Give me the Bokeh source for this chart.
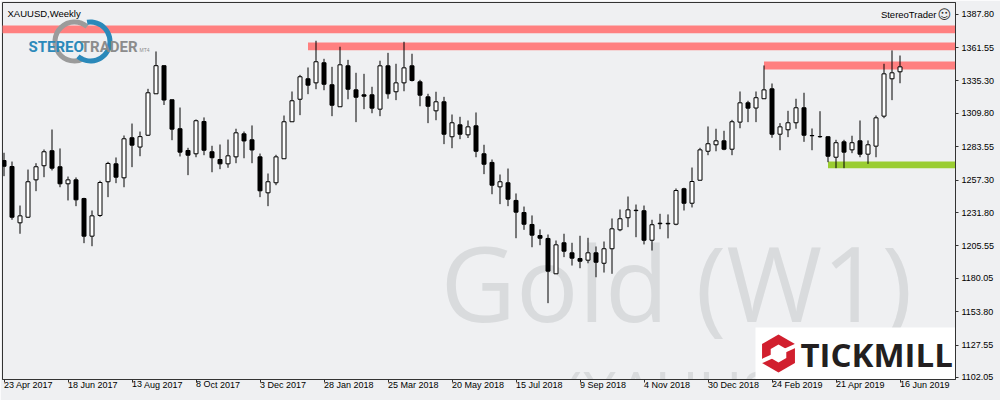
import numpy as np
from bokeh.plotting import figure
from bokeh.models import ColumnDataSource, FixedTicker, Range1d, NumeralTickFormatter
from bokeh.core.properties import value
from bokeh.embed import file_html
from bokeh.resources import INLINE

# ---------------- data (weekly XAUUSD candles, 23 Apr 2017 .. 16 Jun 2019) -------------
opens = [1272.7, 1268.0, 1223.7, 1228.1, 1257.5, 1268.6, 1280.4, 1267.8, 1254.4, 1257.5,
         1242.8, 1213.2, 1229.5, 1256.0, 1270.1, 1259.1, 1290.6, 1283.3, 1292.6, 1325.2,
         1347.3, 1320.5, 1297.7, 1280.6, 1278.0, 1303.4, 1279.6, 1273.5, 1270.1, 1275.6,
         1293.7, 1289.0, 1275.6, 1247.3, 1255.2, 1274.1, 1303.2, 1320.9, 1337.0, 1333.8,
         1349.6, 1332.3, 1315.0, 1347.2, 1328.3, 1324.4, 1324.4, 1313.1, 1347.2, 1326.8,
         1333.8, 1347.2, 1334.6, 1322.8, 1311.8, 1318.9, 1291.4, 1300.8, 1292.9, 1300.0,
         1278.0, 1271.2, 1252.0, 1255.2, 1241.3, 1231.8, 1222.4, 1213.7, 1211.4, 1183.6,
         1208.0, 1200.1, 1195.6, 1194.3, 1200.1, 1191.9, 1203.3, 1218.2, 1227.7, 1233.6,
         1233.2, 1210.0, 1223.4, 1223.3, 1222.6, 1250.5, 1239.1, 1257.2, 1280.0, 1285.1,
         1288.2, 1281.6, 1302.9, 1318.1, 1314.0, 1321.3, 1329.1, 1293.4, 1296.9, 1302.4,
         1314.2, 1292.4, 1291.6, 1291.4, 1275.3, 1287.4, 1281.1, 1288.2, 1277.7, 1284.0,
         1307.6, 1337.0, 1342.5]
highs = [1278.8, 1271.9, 1237.3, 1265.6, 1270.6, 1281.4, 1297.1, 1282.2, 1260.1, 1259.4,
         1243.4, 1233.4, 1256.8, 1271.7, 1275.1, 1292.4, 1301.8, 1295.5, 1329.1, 1358.5,
         1347.5, 1320.5, 1314.4, 1282.7, 1305.0, 1306.6, 1284.3, 1285.3, 1289.2, 1297.7,
         1295.5, 1300.3, 1278.2, 1262.5, 1277.2, 1308.1, 1327.0, 1340.1, 1345.9, 1366.9,
         1352.7, 1346.4, 1362.2, 1351.9, 1341.7, 1340.9, 1330.7, 1351.2, 1357.4, 1348.8,
         1366.1, 1356.7, 1336.2, 1325.2, 1326.8, 1322.8, 1308.9, 1307.1, 1304.2, 1310.5,
         1285.1, 1273.5, 1261.7, 1266.4, 1246.8, 1236.5, 1229.5, 1218.5, 1214.5, 1209.8,
         1215.1, 1208.0, 1213.5, 1211.9, 1205.1, 1209.0, 1227.1, 1234.2, 1244.4, 1238.1,
         1237.3, 1226.1, 1230.8, 1230.3, 1250.7, 1251.3, 1267.2, 1282.7, 1299.5, 1297.7,
         1296.1, 1304.7, 1327.0, 1319.7, 1327.0, 1347.5, 1333.3, 1302.1, 1311.8, 1321.3,
         1326.0, 1297.9, 1311.5, 1291.8, 1289.0, 1289.0, 1292.2, 1304.2, 1288.5, 1308.1,
         1348.8, 1359.3, 1355.3]
lows = [1260.4, 1226.1, 1215.1, 1227.7, 1248.6, 1259.6, 1264.9, 1251.7, 1241.3, 1236.8,
        1207.7, 1205.3, 1228.4, 1243.9, 1254.9, 1251.7, 1267.5, 1276.1, 1292.0, 1325.2,
        1316.4, 1288.7, 1275.9, 1261.2, 1275.3, 1276.9, 1263.5, 1265.9, 1267.0, 1270.6,
        1274.5, 1270.6, 1243.9, 1236.8, 1253.3, 1274.1, 1303.2, 1308.4, 1324.9, 1328.8,
        1328.0, 1307.6, 1315.0, 1320.9, 1302.9, 1313.1, 1309.9, 1307.6, 1321.3, 1320.2,
        1327.2, 1334.9, 1315.4, 1302.1, 1304.4, 1285.6, 1282.4, 1289.5, 1290.4, 1275.3,
        1262.0, 1246.2, 1238.4, 1236.8, 1211.6, 1218.2, 1204.5, 1206.1, 1160.5, 1183.6,
        1196.7, 1190.1, 1188.0, 1191.9, 1180.9, 1184.6, 1183.6, 1217.1, 1220.3, 1212.4,
        1206.7, 1201.9, 1218.7, 1211.5, 1221.8, 1233.4, 1235.8, 1257.2, 1276.9, 1280.0,
        1280.8, 1276.9, 1298.1, 1302.9, 1302.9, 1321.3, 1290.6, 1280.8, 1291.1, 1297.7,
        1287.4, 1280.8, 1290.6, 1271.4, 1266.7, 1266.7, 1278.5, 1275.3, 1270.1, 1275.3,
        1306.0, 1320.2, 1333.5]
closes = [1268.2, 1228.1, 1229.2, 1256.0, 1267.8, 1279.6, 1266.7, 1254.4, 1257.5, 1241.8,
          1213.2, 1229.2, 1255.4, 1270.4, 1259.6, 1289.8, 1284.8, 1291.5, 1326.0, 1347.3,
          1320.3, 1297.4, 1279.3, 1276.9, 1304.0, 1280.8, 1274.9, 1270.1, 1276.4, 1294.5,
          1288.1, 1281.0, 1248.9, 1256.0, 1275.6, 1303.2, 1319.7, 1338.6, 1332.0, 1350.4,
          1332.7, 1316.2, 1348.0, 1328.8, 1322.5, 1323.3, 1313.9, 1347.2, 1325.2, 1333.8,
          1345.6, 1335.7, 1324.1, 1315.4, 1318.9, 1293.4, 1302.4, 1293.4, 1299.2, 1280.0,
          1269.8, 1253.3, 1256.0, 1242.3, 1232.1, 1222.6, 1214.0, 1211.6, 1185.7, 1206.4,
          1201.4, 1195.9, 1193.5, 1200.1, 1192.7, 1203.3, 1219.0, 1226.9, 1233.9, 1233.3,
          1210.0, 1222.2, 1223.0, 1222.9, 1249.1, 1239.1, 1256.2, 1281.1, 1285.9, 1288.2,
          1281.6, 1303.2, 1318.1, 1313.9, 1322.1, 1328.3, 1293.4, 1299.2, 1302.4, 1314.2,
          1292.6, 1292.2, 1291.4, 1276.1, 1286.7, 1279.3, 1286.7, 1277.7, 1285.1, 1306.3,
          1340.9, 1341.7, 1346.4]

date_labels = ["23 Apr 2017", "18 Jun 2017", "13 Aug 2017", "8 Oct 2017", "3 Dec 2017",
               "28 Jan 2018", "25 Mar 2018", "20 May 2018", "15 Jul 2018", "9 Sep 2018",
               "4 Nov 2018", "30 Dec 2018", "24 Feb 2019", "21 Apr 2019", "16 Jun 2019"]
price_ticks = [1387.80, 1361.55, 1335.30, 1309.80, 1283.55, 1257.30, 1231.80,
               1205.55, 1180.05, 1153.80, 1127.55, 1102.05]

# support / resistance zones (first bar index, lower price, upper price)
zone_start = [-5, 38, 95, 103]
zone_low = [1372.9, 1359.4, 1344.3, 1266.7]
zone_high = [1378.9, 1365.5, 1350.6, 1271.9]
zone_kind = ["res", "res", "res", "sup"]

# ---------------- geometry ----------------
BG = "#EFF0F2"
W, H = 1000, 400
FL, FR, FT, FB = 2, 955, 2, 379   # pixel box of the plotting frame
BAR_PX, BAR0_PX = 8.0, 3.5
PX_PRICE, PRICE0 = 0.7866, 1398.58


def dx(px):
    return (px - BAR0_PX) / BAR_PX


def dy(py):
    return PRICE0 - PX_PRICE * py


p = figure(width=W, height=H, x_range=Range1d(dx(FL), dx(FR)),
           y_range=Range1d(dy(FB), dy(FT)), y_axis_location="right",
           output_backend="svg", toolbar_location=None,
           min_border_left=FL, min_border_top=FT, min_border_right=W - FR,
           min_border_bottom=H - FB)
p.background_fill_color = BG
p.border_fill_color = BG
p.outline_line_color = "#333333"
p.xgrid.visible = False
p.ygrid.visible = False

# gap between font ascent and cap height (in em), used to put baselines where wanted
ASC_GAP = {"Open Sans": 0.355, "Liberation Sans": 0.19, "Roboto": 0.217, "DejaVu Sans": 0.2}


def put_text(px, py, s, font, size, color, align="left", style="normal"):
    p.text(x=[dx(px)], y=[dy(py - ASC_GAP[font] * size)], text=[s], text_font=value(font),
           text_font_size=f"{size}px", text_color=color, text_align=align,
           text_baseline="alphabetic", text_font_style=style)


# watermark
put_text(440, 318, "Gold (W1)", "Open Sans", 104, "#D9DBDD")
put_text(564, 413, "(XAUUSD)", "Open Sans", 60, "#D9DBDD")

# zones
zcol = {"res": "#FF8080", "sup": "#9ACD32"}
zsrc = ColumnDataSource(dict(left=zone_start, right=[dx(FR) + 5] * len(zone_start),
                             bottom=zone_low, top=zone_high,
                             color=[zcol[k] for k in zone_kind]))
p.quad(left="left", right="right", bottom="bottom", top="top", fill_color="color",
       line_color=None, source=zsrc)

# candles
idx = list(range(len(opens)))
bull = [c >= o for o, c in zip(opens, closes)]
src = ColumnDataSource(dict(
    x=idx, high=highs, low=lows,
    top=[max(o, c) for o, c in zip(opens, closes)],
    bottom=[min(o, c) for o, c in zip(opens, closes)],
    fill=["white" if b else "black" for b in bull]))
p.segment(x0="x", y0="low", x1="x", y1="high", line_color="black", line_width=1, source=src)
p.vbar(x="x", width=0.5, top="top", bottom="bottom", fill_color="fill",
       line_color="black", line_width=1, source=src)

# header texts
put_text(7, 15, "XAUUSD,Weekly", "Liberation Sans", 9.5, "black")
put_text(936, 16, "StereoTrader", "Liberation Sans", 9.5, "black", align="right")
put_text(937, 17, "\u263A", "DejaVu Sans", 13, "#333333")

# StereoTrader logo
p.annular_wedge(x=[dx(74)], y=[dy(41)], inner_radius=17, outer_radius=22,
                inner_radius_units="screen", outer_radius_units="screen",
                start_angle=50, end_angle=300, start_angle_units="deg", end_angle_units="deg",
                direction="anticlock", fill_color="#9B9B9B", line_color=None)
p.annular_wedge(x=[dx(90)], y=[dy(41)], inner_radius=17, outer_radius=22,
                inner_radius_units="screen", outer_radius_units="screen",
                start_angle=230, end_angle=100, start_angle_units="deg", end_angle_units="deg",
                direction="anticlock", fill_color="#2B89BA", line_color=None)
put_text(28, 50, "STEREO", "Roboto", 15, "#2B89BA", style="bold")
put_text(137, 50, "TRADER", "Roboto", 15, "#8C8C8C", align="right", style="bold")
put_text(139, 50, "MT4", "Liberation Sans", 5, "#8C8C8C")

# Tickmill box
p.quad(left=[dx(755)], right=[dx(FR) + 5], bottom=[dy(FB) - 5], top=[dy(327)],
       fill_color="white", line_color=None)
ang = np.deg2rad(np.arange(90, 450, 60))
cx, cy = 778, 353
p.patch(x=[dx(cx + 19 * np.cos(a)) for a in ang], y=[dy(cy - 19 * np.sin(a)) for a in ang],
        fill_color="#D11F2E", line_color=None)
p.patch(x=[dx(cx + 9 * np.cos(a)) for a in ang], y=[dy(cy - 9 * np.sin(a)) for a in ang],
        fill_color="white", line_color=None)
p.segment(x0=[dx(cx - 22)], y0=[dy(cy + 10)], x1=[dx(cx + 22)], y1=[dy(cy - 10)],
          line_color="white", line_width=4)
put_text(800, 366, "TICKMILL", "Open Sans", 33, "#231F20", style="bold")

# axes
p.yaxis.ticker = FixedTicker(ticks=price_ticks)
p.yaxis.formatter = NumeralTickFormatter(format="0.00")
p.xaxis.ticker = FixedTicker(ticks=idx[::8])
p.xaxis.major_label_overrides = {k: lab for k, lab in zip(idx[::8], date_labels)}
p.xaxis.major_label_orientation = -1e-6
for ax in (p.xaxis[0], p.yaxis[0]):
    ax.major_label_text_font = "Liberation Sans"
    ax.major_label_text_font_size = "9px"
    ax.major_label_text_color = "black"
    ax.axis_line_color = "#333333"
    ax.major_tick_line_color = "#333333"
    ax.minor_tick_line_color = None
    ax.major_tick_in = 0
    ax.major_tick_out = 3
    ax.axis_label_standoff = 0
p.yaxis.major_label_standoff = 3
p.xaxis.major_label_standoff = 2

open("out.html", "w").write(file_html(p, INLINE))
